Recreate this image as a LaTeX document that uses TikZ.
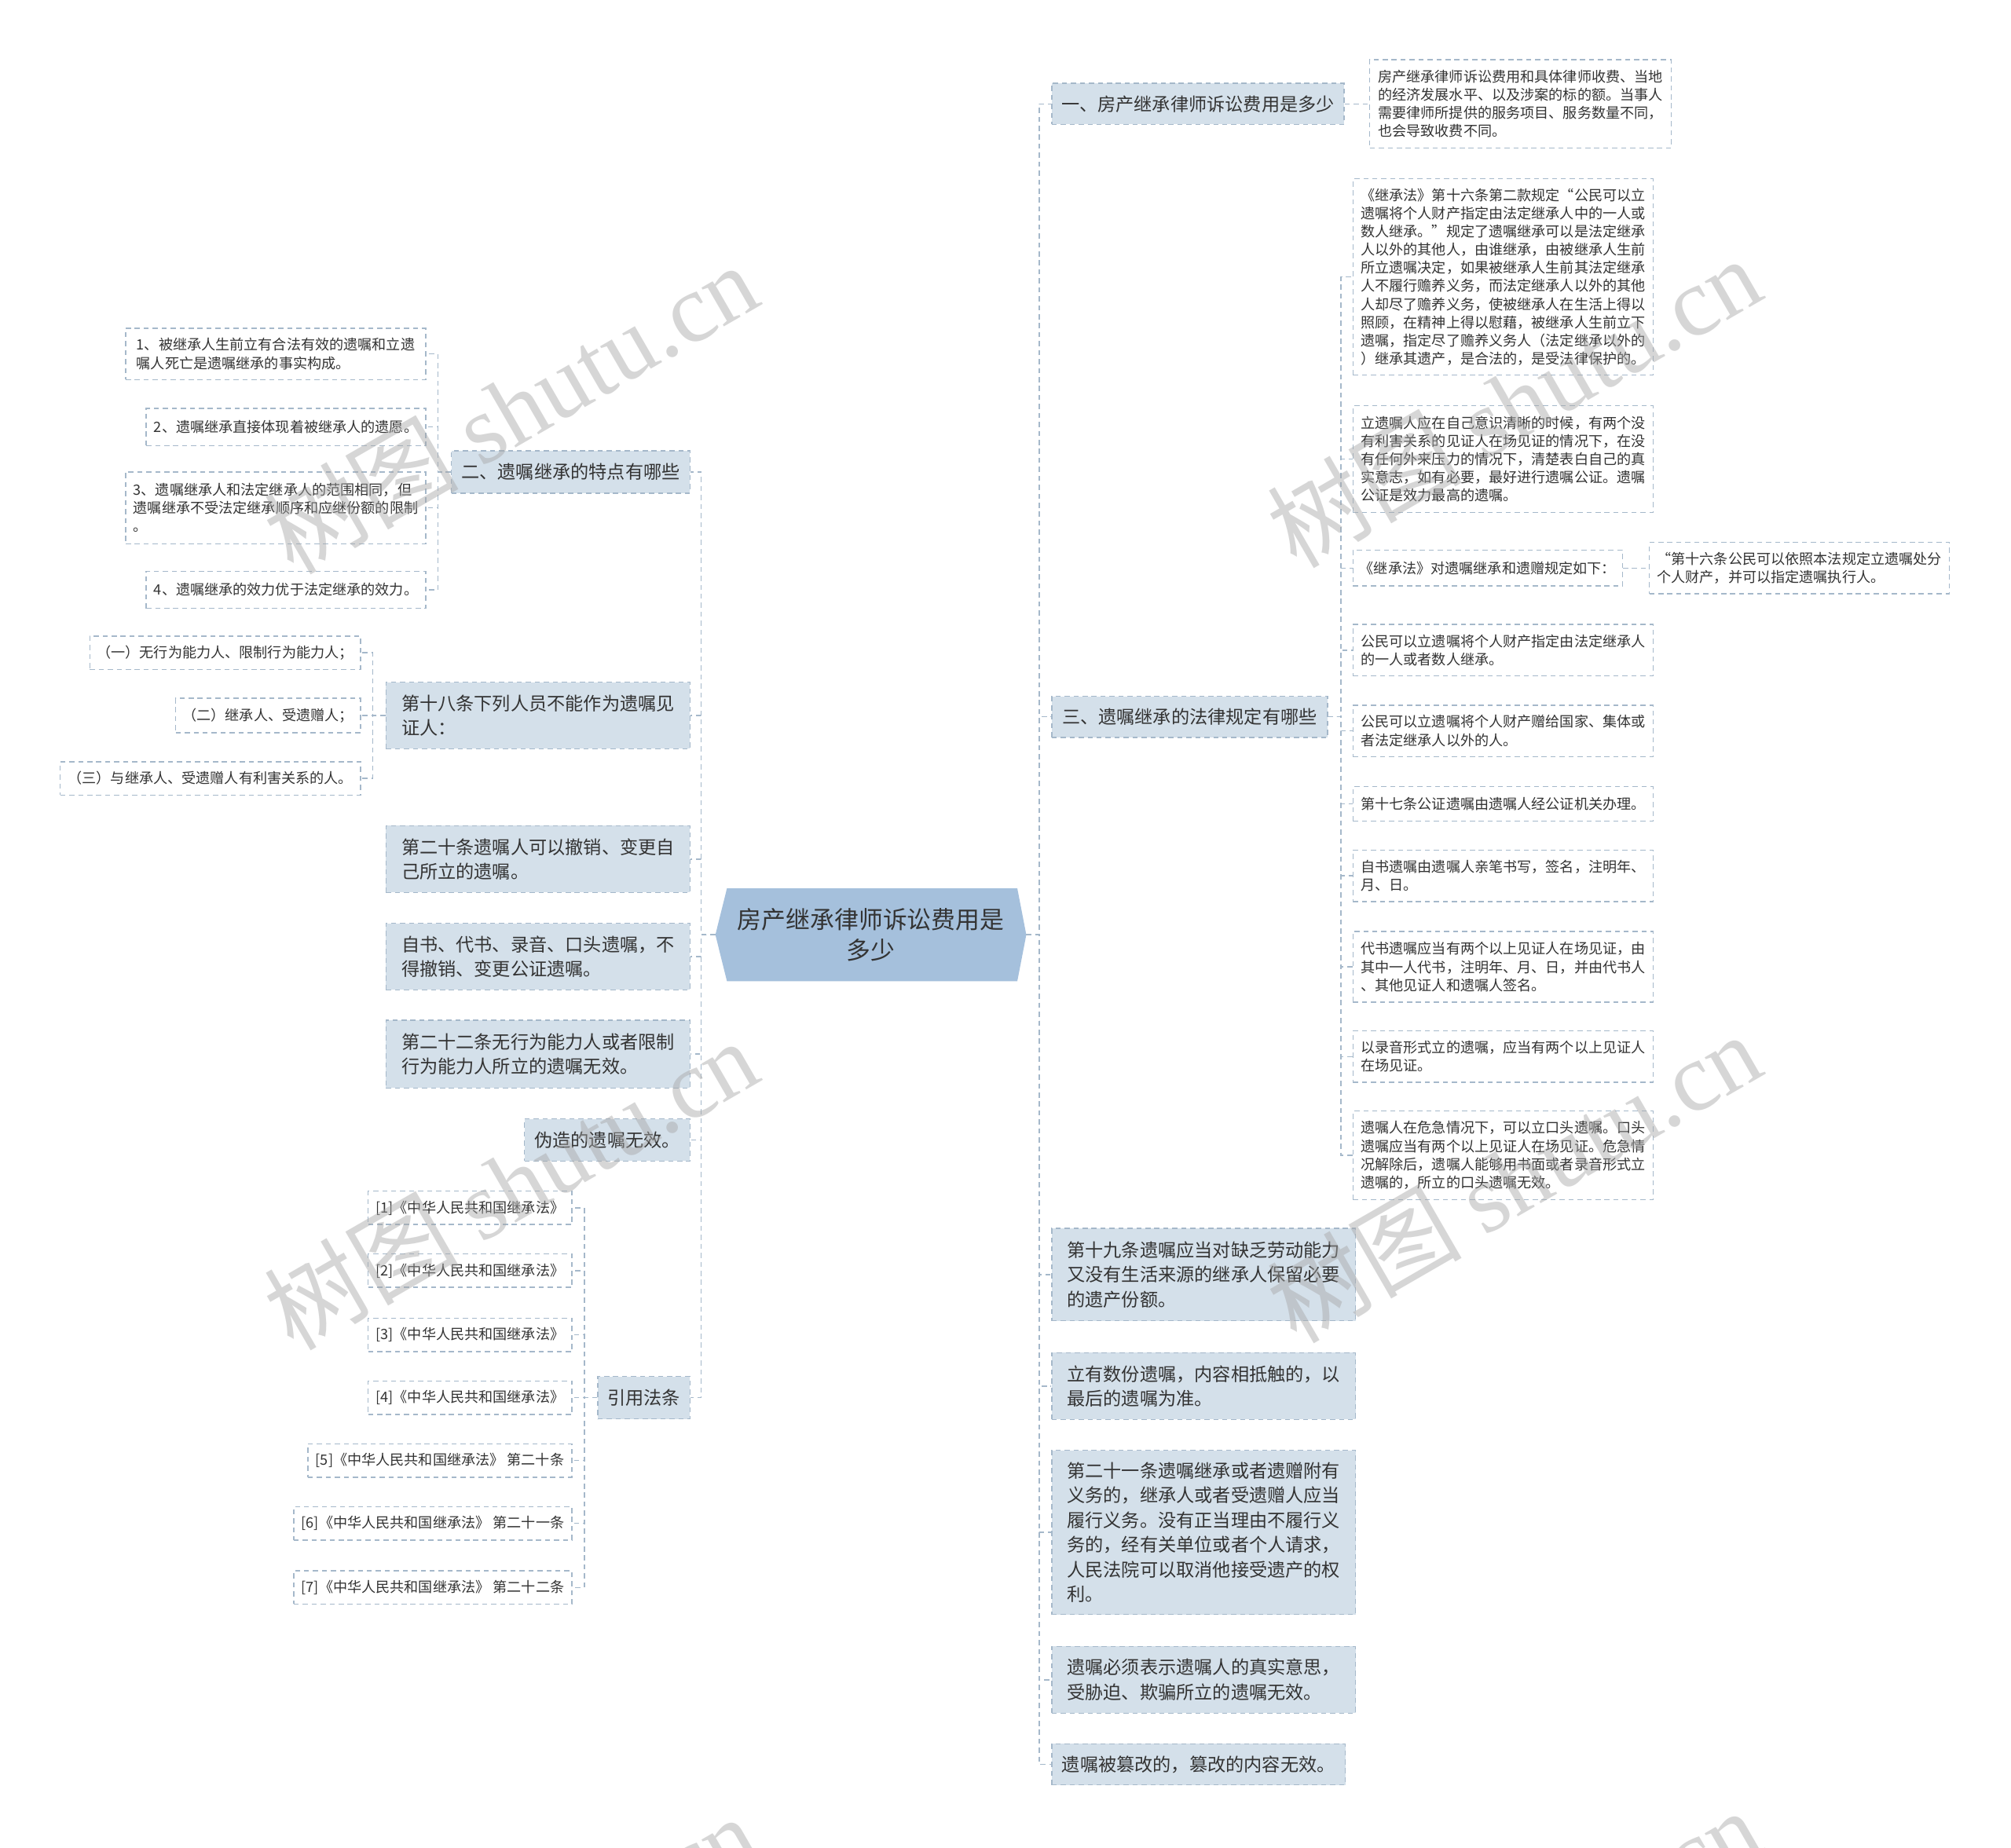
\documentclass[tikz,border=0pt]{standalone}
\usepackage{fontspec}
\setmainfont{Noto Sans CJK SC}
\newfontfamily\wmserif{Liberation Serif}
\usetikzlibrary{calc,backgrounds}
\definecolor{lineC}{HTML}{A5B8CA}
\definecolor{fillA}{HTML}{D4E0EA}
\definecolor{fillC}{HTML}{A5C0DC}
\definecolor{txt}{HTML}{333333}
\tikzset{
  conn/.style={draw=lineC, line width=0.9pt, dash pattern=on 4pt off 3pt},
  lone/.style={draw=lineC, fill=fillA, line width=0.9pt, dash pattern=on 4pt off 3pt,
    text=txt, align=left, inner xsep=3pt, inner ysep=2pt,
    font=\fontsize{14.2}{19.3}\selectfont},
  ltwo/.style={draw=lineC, fill=white, line width=0.9pt, dash pattern=on 4pt off 3pt,
    text=txt, align=left, inner xsep=3pt, inner ysep=2pt,
    font=\fontsize{11.1}{14.2}\selectfont},
  wm/.style={rotate=30, text=black!35, opacity=0.45, inner sep=0pt,
    font=\fontsize{76}{80}\selectfont}
}
\begin{document}
\begin{tikzpicture}[x=1pt,y=-1pt]
\useasboundingbox (0,0) rectangle (1568,1441);

% centre
\node[text=txt, align=center, minimum width=242pt, minimum height=72pt, inner sep=0pt,
  font=\fontsize{18.9}{24}\selectfont] (C) at (679,729) {房产继承律师诉讼费用是\\多少};
\begin{scope}[on background layer]
\fill[white] (0,0) rectangle (1568,1441);
\fill[fillC] (C.west) -- ($(C.north west)+(9,0)$) -- ($(C.north east)+(-7,0)$) -- (C.east)
  -- ($(C.south east)+(-7,0)$) -- ($(C.south west)+(9,0)$) -- cycle;
\end{scope}

% left level 1
\node[lone, minimum width=186pt, minimum height=33pt] (L1) at (445,368) {二、遗嘱继承的特点有哪些};
\node[lone, minimum width=237pt, minimum height=52pt] (L2) at (419.5,558) {第十八条下列人员不能作为遗嘱见\\证人：};
\node[lone, minimum width=237pt, minimum height=52pt] (L3) at (419.5,670) {第二十条遗嘱人可以撤销、变更自\\己所立的遗嘱。};
\node[lone, minimum width=237pt, minimum height=52pt] (L4) at (419.5,746) {自书、代书、录音、口头遗嘱，不\\得撤销、变更公证遗嘱。};
\node[lone, minimum width=237pt, minimum height=53pt] (L5) at (419.5,822) {第二十二条无行为能力人或者限制\\行为能力人所立的遗嘱无效。};
\node[lone, minimum width=129pt, minimum height=33pt] (L6) at (473.5,889) {伪造的遗嘱无效。};
\node[lone, minimum width=72pt, minimum height=33pt] (L7) at (502,1090) {引用法条};

% left level 2 : under L1
\node[ltwo, minimum width=234pt, minimum height=40pt] (L1a) at (215,276) {1、被继承人生前立有合法有效的遗嘱和立遗\\嘱人死亡是遗嘱继承的事实构成。};
\node[ltwo, minimum width=218pt, minimum height=29pt] (L1b) at (223,333) {2、遗嘱继承直接体现着被继承人的遗愿。};
\node[ltwo, minimum width=234pt, minimum height=56pt] (L1c) at (215,396) {3、遗嘱继承人和法定继承人的范围相同，但\\遗嘱继承不受法定继承顺序和应继份额的限制\\。};
\node[ltwo, minimum width=218pt, minimum height=29pt] (L1d) at (223,460) {4、遗嘱继承的效力优于法定继承的效力。};
% under L2
\node[ltwo, minimum width=211pt, minimum height=26pt] (L2a) at (175.5,509) {（一）无行为能力人、限制行为能力人；};
\node[ltwo, minimum width=144pt, minimum height=27pt] (L2b) at (209,558) {（二）继承人、受遗赠人；};
\node[ltwo, minimum width=234pt, minimum height=26pt] (L2c) at (164,607) {（三）与继承人、受遗赠人有利害关系的人。};
% under L7
\node[ltwo, minimum width=159pt, minimum height=26pt] (L7a) at (366.5,942) {[1]《中华人民共和国继承法》};
\node[ltwo, minimum width=159pt, minimum height=26pt] (L7b) at (366.5,991) {[2]《中华人民共和国继承法》};
\node[ltwo, minimum width=159pt, minimum height=26pt] (L7c) at (366.5,1041) {[3]《中华人民共和国继承法》};
\node[ltwo, minimum width=159pt, minimum height=26pt] (L7d) at (366.5,1090) {[4]《中华人民共和国继承法》};
\node[ltwo, minimum width=206pt, minimum height=26pt] (L7e) at (343,1139) {[5]《中华人民共和国继承法》 第二十条};
\node[ltwo, minimum width=217pt, minimum height=26pt] (L7f) at (337.5,1188) {[6]《中华人民共和国继承法》 第二十一条};
\node[ltwo, minimum width=217pt, minimum height=26pt] (L7g) at (337.5,1238) {[7]《中华人民共和国继承法》 第二十二条};

% right level 1
\node[lone, minimum width=228pt, minimum height=32pt] (R1) at (934,81) {一、房产继承律师诉讼费用是多少};
\node[lone, minimum width=215pt, minimum height=32pt] (R2) at (927.5,559) {三、遗嘱继承的法律规定有哪些};
\node[lone, minimum width=237pt, minimum height=72pt] (R3) at (938.5,994) {第十九条遗嘱应当对缺乏劳动能力\\又没有生活来源的继承人保留必要\\的遗产份额。};
\node[lone, minimum width=237pt, minimum height=52pt] (R4) at (938.5,1081) {立有数份遗嘱，内容相抵触的，以\\最后的遗嘱为准。};
\node[lone, minimum width=237pt, minimum height=128pt] (R5) at (938.5,1195) {第二十一条遗嘱继承或者遗赠附有\\义务的，继承人或者受遗赠人应当\\履行义务。没有正当理由不履行义\\务的，经有关单位或者个人请求，\\人民法院可以取消他接受遗产的权\\利。};
\node[lone, minimum width=237pt, minimum height=52pt] (R6) at (938.5,1310) {遗嘱必须表示遗嘱人的真实意思，\\受胁迫、欺骗所立的遗嘱无效。};
\node[lone, minimum width=229pt, minimum height=32pt] (R7) at (934.5,1376) {遗嘱被篡改的，篡改的内容无效。};

% right level 2
\node[ltwo, minimum width=235pt, minimum height=69pt] (R1a) at (1185.5,81) {房产继承律师诉讼费用和具体律师收费、当地\\的经济发展水平、以及涉案的标的额。当事人\\需要律师所提供的服务项目、服务数量不同，\\也会导致收费不同。};
\node[ltwo, minimum width=234pt, minimum height=153pt] (R2a) at (1172,216) {《继承法》第十六条第二款规定“公民可以立\\遗嘱将个人财产指定由法定继承人中的一人或\\数人继承。”规定了遗嘱继承可以是法定继承\\人以外的其他人，由谁继承，由被继承人生前\\所立遗嘱决定，如果被继承人生前其法定继承\\人不履行赡养义务，而法定继承人以外的其他\\人却尽了赡养义务，使被继承人在生活上得以\\照顾，在精神上得以慰藉，被继承人生前立下\\遗嘱，指定尽了赡养义务人（法定继承以外的\\）继承其遗产，是合法的，是受法律保护的。};
\node[ltwo, minimum width=234pt, minimum height=83pt] (R2b) at (1172,358) {立遗嘱人应在自己意识清晰的时候，有两个没\\有利害关系的见证人在场见证的情况下，在没\\有任何外来压力的情况下，清楚表白自己的真\\实意志，如有必要，最好进行遗嘱公证。遗嘱\\公证是效力最高的遗嘱。};
\node[ltwo, minimum width=210pt, minimum height=28pt] (R2c) at (1160,443) {《继承法》对遗嘱继承和遗赠规定如下：};
\node[ltwo, minimum width=234pt, minimum height=40pt] (R2c1) at (1403,443) {“第十六条公民可以依照本法规定立遗嘱处分\\个人财产，并可以指定遗嘱执行人。};
\node[ltwo, minimum width=234pt, minimum height=40pt] (R2d) at (1172,507) {公民可以立遗嘱将个人财产指定由法定继承人\\的一人或者数人继承。};
\node[ltwo, minimum width=234pt, minimum height=40pt] (R2e) at (1172,570) {公民可以立遗嘱将个人财产赠给国家、集体或\\者法定继承人以外的人。};
\node[ltwo, minimum width=234pt, minimum height=27pt] (R2f) at (1172,627) {第十七条公证遗嘱由遗嘱人经公证机关办理。};
\node[ltwo, minimum width=234pt, minimum height=40pt] (R2g) at (1172,683) {自书遗嘱由遗嘱人亲笔书写，签名，注明年、\\月、日。};
\node[ltwo, minimum width=234pt, minimum height=55pt] (R2h) at (1172,754) {代书遗嘱应当有两个以上见证人在场见证，由\\其中一人代书，注明年、月、日，并由代书人\\、其他见证人和遗嘱人签名。};
\node[ltwo, minimum width=234pt, minimum height=40pt] (R2i) at (1172,824) {以录音形式立的遗嘱，应当有两个以上见证人\\在场见证。};
\node[ltwo, minimum width=234pt, minimum height=69pt] (R2j) at (1172,901) {遗嘱人在危急情况下，可以立口头遗嘱。口头\\遗嘱应当有两个以上见证人在场见证。危急情\\况解除后，遗嘱人能够用书面或者录音形式立\\遗嘱的，所立的口头遗嘱无效。};

% connectors: centre to level 1
\foreach \n in {L1,L2,L3,L4,L5,L6,L7} \draw[conn] (C.west) -- +(-11,0) |- (\n.east);
\foreach \n in {R1,R2,R3,R4,R5,R6,R7} \draw[conn] (C.east) -- +(10,0) |- (\n.west);
% left level 2
\foreach \n in {L1a,L1b,L1c,L1d} \draw[conn] (L1.west) -- +(-10,0) |- (\n.east);
\foreach \n in {L2a,L2b,L2c} \draw[conn] (L2.west) -- +(-10,0) |- (\n.east);
\foreach \n in {L7a,L7b,L7c,L7d,L7e,L7f,L7g} \draw[conn] (L7.west) -- +(-10,0) |- (\n.east);
% right level 2
\draw[conn] (R1.east) -- (R1a.west);
\foreach \n in {R2a,R2b,R2c,R2d,R2e,R2f,R2g,R2h,R2i,R2j} \draw[conn] (R2.east) -- +(10,0) |- (\n.west);
\draw[conn] (R2c.east) -- (R2c1.west);

% watermarks
\begin{scope}
\clip (0,0) rectangle (1568,1441);
\node[wm] (w1) at (398,318) {树图 {\wmserif shutu.cn}};
\node[wm] (w2) at (1180,313) {树图 {\wmserif shutu.cn}};
\node[wm] (w3) at (398,923) {树图 {\wmserif shutu.cn}};
\node[wm] (w4) at (1180,918) {树图 {\wmserif shutu.cn}};
\node[wm] (w5) at (398,1528) {树图 {\wmserif shutu.cn}};
\node[wm] (w6) at (1180,1523) {树图 {\wmserif shutu.cn}};
\end{scope}
\end{tikzpicture}
\end{document}
